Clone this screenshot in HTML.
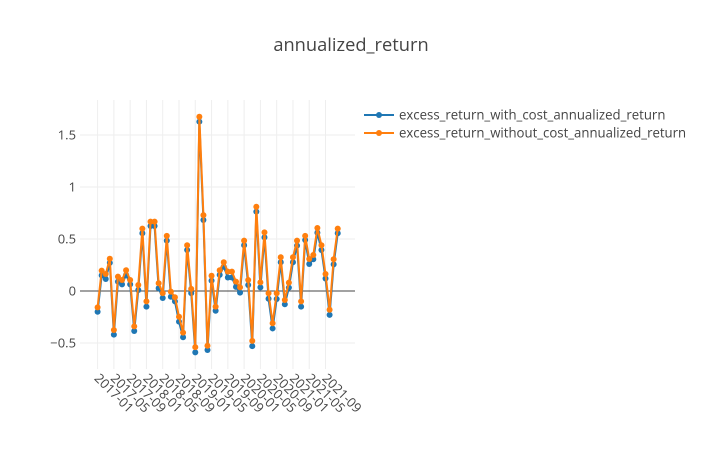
<!DOCTYPE html>
<html><head><meta charset="utf-8"><style>
body{margin:0;background:#fff;}
svg{display:block;font-family:"Open Sans","Liberation Sans",sans-serif;}
</style></head><body>
<svg id="chart" width="702" height="450">
<text x="351" y="51" text-anchor="middle" font-size="18.3" fill="#444">annualized_return</text>
<g id="grid"></g>
<g id="axes"></g>
<g id="series"></g>
<g>
 <g>
  <line x1="364" y1="115" x2="394" y2="115" stroke="#1f77b4" stroke-width="2"/>
  <circle cx="379" cy="115" r="3" fill="#1f77b4"/>
  <text x="399" y="119.5" font-size="13.2" fill="#444">excess_return_with_cost_annualized_return</text>
 </g>
 <g>
  <line x1="364" y1="133" x2="394" y2="133" stroke="#ff7f0e" stroke-width="2"/>
  <circle cx="379" cy="133" r="3" fill="#ff7f0e"/>
  <text x="399" y="137.5" font-size="13.2" fill="#444">excess_return_without_cost_annualized_return</text>
 </g>
</g>
</svg>
<script>
const withCost=[-0.20,0.15,0.115,0.27,-0.42,0.09,0.064,0.155,0.064,-0.385,0.01,0.555,-0.15,0.625,0.625,0.026,-0.067,0.484,-0.055,-0.10,-0.295,-0.445,0.394,-0.02,-0.59,1.628,0.683,-0.567,0.10,-0.19,0.155,0.234,0.13,0.13,0.04,-0.016,0.44,0.058,-0.53,0.763,0.035,0.516,-0.074,-0.36,-0.077,0.276,-0.128,0.032,0.276,0.436,-0.15,0.49,0.26,0.305,0.56,0.394,0.12,-0.23,0.256,0.555];
const withoutCost=[-0.157,0.196,0.163,0.31,-0.375,0.138,0.106,0.2,0.106,-0.34,0.058,0.60,-0.10,0.667,0.667,0.074,-0.02,0.53,-0.006,-0.06,-0.247,-0.40,0.44,0.02,-0.54,1.676,0.73,-0.526,0.147,-0.15,0.2,0.276,0.186,0.186,0.09,0.035,0.484,0.106,-0.48,0.81,0.083,0.564,-0.022,-0.31,-0.022,0.324,-0.087,0.08,0.324,0.484,-0.10,0.53,0.308,0.346,0.606,0.44,0.163,-0.18,0.305,0.60];
const yTicks=[-0.5,0,0.5,1,1.5];
const yTickLabels=["−0.5","0","0.5","1","1.5"];
const xTickLabels=["2017-01","2017-05","2017-09","2018-01","2018-05","2018-09","2019-01","2019-05","2019-09","2020-01","2020-05","2020-09","2021-01","2021-05","2021-09"];
const NS="http://www.w3.org/2000/svg";
const L=80,R=355,T=100,B=369;
function xScale(i){return 97.6+i*4.07;}
function yScale(v){return 291-v*104;}
function mk(tag,attrs,parent){const e=document.createElementNS(NS,tag);for(const k in attrs)e.setAttribute(k,attrs[k]);parent.appendChild(e);return e;}
const grid=document.getElementById('grid'),axes=document.getElementById('axes'),series=document.getElementById('series');
xTickLabels.forEach((lab,k)=>{
  const x=xScale(k*4);
  const g=mk('line',{x1:x,x2:x,y1:T,y2:B,stroke:'#eee','stroke-width':1},grid);
  
  
  const t=mk('text',{x:0,y:0,'font-size':13,fill:'#444',transform:`translate(${x-4},${B+10}) rotate(45)`},axes);
  t.textContent=lab;
  
  
});
yTicks.forEach((v,k)=>{
  const y=yScale(v);
  const g=mk('line',{x1:L,x2:R,y1:y,y2:y,stroke:v===0?'#444':'#eee','stroke-width':1},grid);
  
  
  const t=mk('text',{x:L-4,y:y+4.5,'font-size':13,fill:'#444','text-anchor':'end'},axes);
  t.textContent=yTickLabels[k];
  
  
});
function drawSeries(vals,color,name){
  const g=mk('g',{},series);
  
  
  const pts=vals.map((v,i)=>xScale(i)+','+yScale(v)).join(' ');
  const pl=mk('polyline',{points:pts,fill:'none',stroke:color,'stroke-width':2,'stroke-linejoin':'round'},g);
  
  
  vals.forEach((v,i)=>{
    const c=mk('circle',{cx:xScale(i),cy:yScale(v),r:3,fill:color},g);
    
    
  });
}
drawSeries(withCost,'#1f77b4','with-cost-series');
drawSeries(withoutCost,'#ff7f0e','without-cost-series');
</script>
</body></html>
